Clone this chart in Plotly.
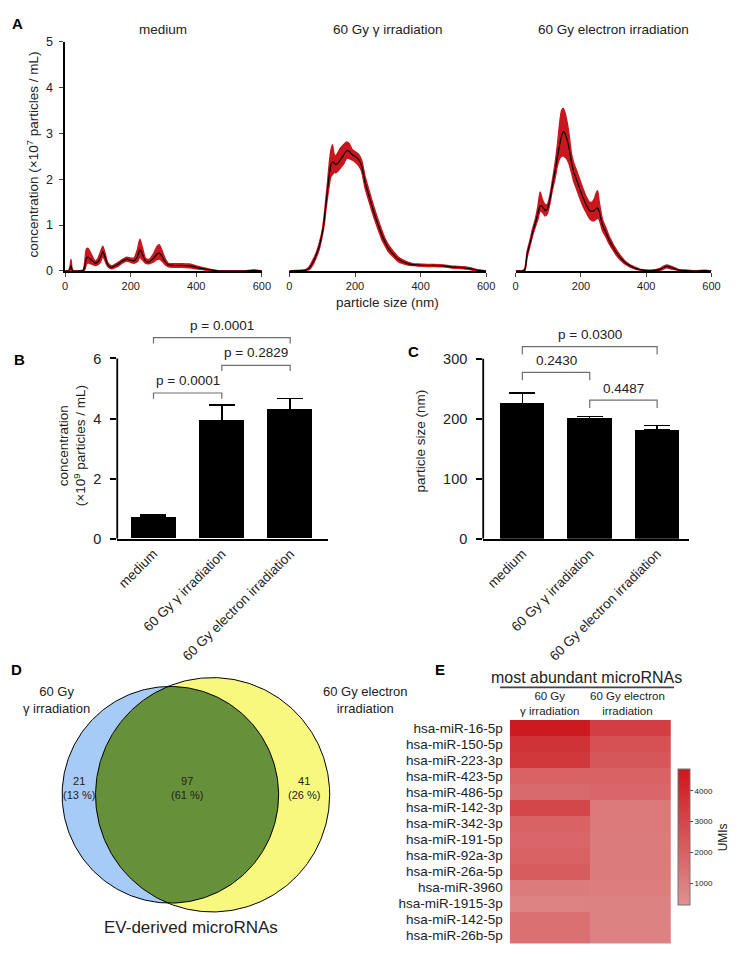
import numpy as np
import plotly.graph_objects as go

W, H = 740, 972
FONT = "Liberation Sans, Arial, sans-serif"
RED = "#c8171d"

# ---- panel A: size distributions (nm, x10^7 particles/mL)
size_med = [0, 10, 15, 18, 21, 25, 40, 55, 60, 65, 70, 80, 91, 100, 108, 115, 122, 130, 141, 160,
            175, 188, 200, 210, 220, 228, 236, 245, 256, 270, 280, 287, 295, 305, 316, 335, 356, 380, 400, 420,
            440, 456, 470, 500, 550, 565, 575, 585, 600]
mean_med = [0, 0, 0.05, 0.12, 0.03, 0, 0, 0.01, 0.1, 0.28, 0.3, 0.24, 0.17, 0.2, 0.3, 0.42, 0.3, 0.14, 0.08, 0.14,
            0.22, 0.26, 0.23, 0.22, 0.3, 0.47, 0.36, 0.22, 0.2, 0.28, 0.37, 0.39, 0.33, 0.2, 0.13, 0.12, 0.12, 0.11, 0.08, 0.05,
            0.03, 0.01, 0, 0, 0, 0.01, 0.015, 0.01, 0]
upper_med = [0, 0, 0.1, 0.25, 0.06, 0, 0, 0.02, 0.2, 0.48, 0.49, 0.36, 0.22, 0.27, 0.42, 0.54, 0.38, 0.18, 0.11, 0.18,
             0.25, 0.3, 0.28, 0.28, 0.45, 0.69, 0.5, 0.28, 0.25, 0.38, 0.53, 0.57, 0.45, 0.27, 0.16, 0.16, 0.16, 0.15, 0.11, 0.07,
             0.04, 0.02, 0.005, 0, 0, 0.015, 0.02, 0.015, 0]
lower_med = [0, 0, 0.02, 0.05, 0, 0, 0, 0, 0.03, 0.15, 0.18, 0.15, 0.12, 0.14, 0.2, 0.32, 0.22, 0.1, 0.05, 0.1,
             0.18, 0.22, 0.19, 0.17, 0.2, 0.3, 0.24, 0.17, 0.16, 0.2, 0.25, 0.26, 0.22, 0.14, 0.09, 0.08, 0.08, 0.07, 0.05, 0.03,
             0.01, 0, 0, 0, 0, 0.005, 0.01, 0.005, 0]

size_gam = [0, 20, 40, 50, 60, 71, 81, 91, 101, 106, 111, 116, 121, 126, 131, 136, 141, 148, 156, 165,
            174, 182, 191, 200, 211, 220, 231, 241, 251, 261, 271, 281, 291, 301, 311, 321, 331, 346, 361, 376,
            391, 420, 441, 470, 491, 511, 531, 551, 571, 590, 600]
mean_gam = [0, 0.01, 0.01, 0.02, 0.06, 0.18, 0.33, 0.54, 0.86, 1.1, 1.43, 1.75, 2.07, 2.3, 2.38, 2.36, 2.32, 2.35, 2.43, 2.52,
            2.62, 2.61, 2.54, 2.5, 2.43, 2.3, 1.93, 1.68, 1.43, 1.2, 1.0, 0.8, 0.64, 0.5, 0.41, 0.33, 0.26, 0.2, 0.16, 0.14,
            0.13, 0.12, 0.12, 0.11, 0.09, 0.08, 0.07, 0.05, 0.02, 0.01, 0]
upper_gam = [0, 0.01, 0.02, 0.03, 0.09, 0.23, 0.38, 0.6, 0.92, 1.2, 1.55, 1.9, 2.3, 2.6, 2.75, 2.55, 2.5, 2.58, 2.68, 2.75,
             2.81, 2.78, 2.65, 2.6, 2.54, 2.42, 2.05, 1.8, 1.55, 1.32, 1.1, 0.9, 0.72, 0.58, 0.48, 0.39, 0.31, 0.24, 0.19, 0.16,
             0.15, 0.14, 0.14, 0.13, 0.11, 0.1, 0.09, 0.07, 0.03, 0.01, 0]
lower_gam = [0, 0, 0, 0.01, 0.03, 0.13, 0.28, 0.48, 0.8, 1.0, 1.32, 1.6, 1.85, 2.05, 2.1, 2.15, 2.14, 2.18, 2.25, 2.33,
             2.45, 2.45, 2.42, 2.38, 2.3, 2.18, 1.8, 1.56, 1.32, 1.1, 0.9, 0.7, 0.56, 0.43, 0.35, 0.28, 0.21, 0.16, 0.13, 0.12,
             0.11, 0.1, 0.1, 0.09, 0.07, 0.06, 0.05, 0.03, 0.01, 0, 0]

size_ele = [0, 20, 28, 35, 45, 52, 60, 68, 75, 82, 90, 97, 105, 112, 120, 128, 136, 141, 146, 151,
            156, 163, 171, 178, 186, 196, 206, 216, 226, 234, 241, 246, 251, 256, 266, 276, 286, 296, 306, 316,
            326, 336, 347, 357, 367, 380, 400, 420, 440, 452, 462, 474, 487, 500, 520, 550, 580, 600]
mean_ele = [0, 0, 0.03, 0.36, 0.64, 0.85, 1.04, 1.25, 1.42, 1.4, 1.32, 1.35, 1.57, 1.85, 2.15, 2.5, 2.79, 2.95, 3.04, 3.0,
            2.9, 2.7, 2.36, 2.15, 2.0, 1.8, 1.61, 1.45, 1.32, 1.3, 1.32, 1.36, 1.37, 1.3, 1.0, 0.85, 0.68, 0.55, 0.43, 0.33,
            0.25, 0.18, 0.13, 0.09, 0.06, 0.03, 0.01, 0.01, 0.03, 0.07, 0.1, 0.08, 0.05, 0.02, 0.01, 0, 0.01, 0]
upper_ele = [0, 0, 0.05, 0.42, 0.7, 0.92, 1.12, 1.4, 1.72, 1.55, 1.45, 1.45, 1.65, 1.95, 2.3, 2.75, 3.29, 3.5, 3.54, 3.45,
             3.3, 3.0, 2.55, 2.35, 2.2, 2.0, 1.8, 1.62, 1.5, 1.5, 1.57, 1.68, 1.75, 1.5, 1.12, 0.95, 0.76, 0.62, 0.49, 0.38,
             0.29, 0.21, 0.15, 0.11, 0.08, 0.04, 0.02, 0.02, 0.05, 0.1, 0.13, 0.11, 0.07, 0.03, 0.02, 0.005, 0.015, 0]
lower_ele = [0, 0, 0.01, 0.3, 0.58, 0.78, 0.96, 1.12, 1.3, 1.28, 1.2, 1.25, 1.48, 1.75, 2.0, 2.3, 2.47, 2.5, 2.51, 2.48,
             2.45, 2.35, 2.15, 1.95, 1.8, 1.6, 1.42, 1.28, 1.15, 1.1, 1.1, 1.13, 1.15, 1.12, 0.88, 0.75, 0.6, 0.48, 0.37, 0.28,
             0.21, 0.15, 0.1, 0.07, 0.04, 0.02, 0, 0, 0.01, 0.04, 0.07, 0.05, 0.03, 0.01, 0, 0, 0.005, 0]

# ---- panels B / C
groups = ["medium", "60 Gy γ irradiation", "60 Gy electron irradiation"]
conc_mean = [0.72, 3.93, 4.30]
conc_sem = [0.08, 0.52, 0.37]
conc_pairs = [(0, 1), (1, 2), (0, 2)]
conc_p = ["p = 0.0001", "p = 0.2829", "p = 0.0001"]
psize_mean = [225, 200, 181]
psize_sem = [18, 4, 8]
psize_pairs = [(0, 1), (1, 2), (0, 2)]
psize_p = ["0.2430", "0.4487", "p = 0.0300"]

# ---- panel D
only_gamma, shared, only_electron = 21, 97, 41

# ---- panel E
mirnas = ["hsa-miR-16-5p", "hsa-miR-150-5p", "hsa-miR-223-3p", "hsa-miR-423-5p", "hsa-miR-486-5p",
          "hsa-miR-142-3p", "hsa-miR-342-3p", "hsa-miR-191-5p", "hsa-miR-92a-3p", "hsa-miR-26a-5p",
          "hsa-miR-3960", "hsa-miR-1915-3p", "hsa-miR-142-5p", "hsa-miR-26b-5p"]
umi_gamma = [4600, 3700, 3500, 2000, 1700, 3000, 2000, 1800, 2000, 2200, 1100, 800, 1500, 1500]
umi_electron = [3300, 2600, 2400, 2000, 1800, 1200, 1150, 1100, 1100, 1100, 1000, 850, 850, 850]


def fx(p):
    return p / W


def fy(p):
    return 1 - p / H


def ann(text, x, y, size=13, **kw):
    d = dict(text=text, x=fx(x), y=fy(y), xref="paper", yref="paper", showarrow=False,
             font=dict(size=size, color="#222", family=FONT), xanchor="center", yanchor="middle")
    d.update(kw)
    return d


fig = go.Figure()
annotations = []
shapes = []

# panel A
dists = [(size_med, mean_med, lower_med, upper_med, "medium", 55, 255),
         (size_gam, mean_gam, lower_gam, upper_gam, "60 Gy γ irradiation", 283, 483),
         (size_ele, mean_ele, lower_ele, upper_ele, "60 Gy electron irradiation", 513, 712)]
axes_layout = {}
for i, (xs, m, lo, up, title, x0, x1) in enumerate(dists):
    sfx = "" if i == 0 else str(i + 1)
    xa, ya = "x" + sfx, "y" + sfx
    band_line = dict(width=1.5, color=RED, shape="spline", smoothing=0.6)
    fig.add_trace(go.Scatter(x=xs, y=lo, mode="lines", line=band_line, xaxis=xa, yaxis=ya, hoverinfo="skip"))
    fig.add_trace(go.Scatter(x=xs, y=up, mode="lines", line=band_line, fill="tonexty", fillcolor=RED,
                             xaxis=xa, yaxis=ya, hoverinfo="skip"))
    fig.add_trace(go.Scatter(x=xs, y=m, mode="lines", line=dict(width=1.2, color="black", shape="spline", smoothing=0.6),
                             xaxis=xa, yaxis=ya))
    axes_layout["xaxis" + sfx] = dict(domain=[fx(x0), fx(x1)], range=[0, 600], tickvals=[0, 200, 400, 600],
                                      ticks="outside", ticklen=4, showline=True, linewidth=1.5, linecolor="black",
                                      tickfont=dict(size=11), showgrid=False, zeroline=False, anchor=ya)
    axes_layout["yaxis" + sfx] = dict(domain=[fy(260), fy(27)], range=[0, 5], tickvals=[0, 1, 2, 3, 4, 5],
                                      ticks="outside", ticklen=4, showline=True, linewidth=1.5, linecolor="black",
                                      tickfont=dict(size=12.5), showgrid=False, zeroline=False, anchor=xa,
                                      visible=(i == 0), ticklabelstandoff=4)
    annotations.append(ann(title, (x0 + x1) / 2, 15, 13.5))

annotations.append(ann("concentration (×10<sup>7</sup> particles / mL)", 22, 142, 13.5, textangle=-90))
annotations.append(ann("particle size (nm)", 383, 292, 13.5))

# panels B and C
bar_panels = [
    ("4", conc_mean, conc_sem, conc_pairs, conc_p, [4.85, 5.77, 6.69], 0.19, 0.42,
     (108, 322, 300, 532), [-0.53, 2.55], [0, 7.6], [0, 2, 4, 6], 6),
    ("5", psize_mean, psize_sem, psize_pairs, psize_p, [277, 231, 320], 13, 20,
     (480, 689, 310, 532), [-0.58, 2.47], [0, 364], [0, 100, 200, 300], 300),
]
for sfx, means, sems, pairs, plabels, levels, drop, toff, box, xr, yr, yt, ytop in bar_panels:
    xa, ya = "x" + sfx, "y" + sfx
    fig.add_trace(go.Bar(x=[0, 1, 2], y=means, width=0.66, marker=dict(color="black", line=dict(width=0)),
                         error_y=dict(type="data", array=sems, arrayminus=[0] * 3, symmetric=False,
                                      color="black", thickness=1.5, width=13),
                         xaxis=xa, yaxis=ya))
    l, r, t, b = box
    axes_layout["xaxis" + sfx] = dict(domain=[fx(l), fx(r)], range=xr, tickvals=[0, 1, 2], ticktext=groups,
                                      tickangle=-45, ticks="", showline=True, linewidth=1.8, linecolor="black",
                                      tickfont=dict(size=13.5), showgrid=False, zeroline=False, anchor=ya)
    axes_layout["yaxis" + sfx] = dict(domain=[fy(b), fy(t)], range=yr, tickvals=yt, ticks="outside", ticklen=6,
                                      tickwidth=1.5, tickcolor="black", showline=False, tickfont=dict(size=14.5),
                                      showgrid=False, zeroline=False, anchor=xa, ticklabelstandoff=6)
    shapes.append(dict(type="line", xref=xa + " domain", yref=ya, x0=0, x1=0, y0=0, y1=ytop,
                       line=dict(color="black", width=1.8)))
    for (a, c), lab, lev in zip(pairs, plabels, levels):
        shapes.append(dict(type="path", xref=xa, yref=ya,
                           path=f"M {a},{lev - drop} L {a},{lev} L {c},{lev} L {c},{lev - drop}",
                           line=dict(color="#6e6e6e", width=1.2)))
        annotations.append(dict(text=lab, x=(a + c) / 2, y=lev + toff, xref=xa, yref=ya, showarrow=False,
                                font=dict(size=13.5, color="#222"), xanchor="center", yanchor="middle"))

annotations.append(ann("concentration<br>(×10<sup>9</sup> particles / mL)", 62, 437, 13.5, textangle=-90))
annotations.append(ann("particle size (nm)", 416, 433, 13.5, textangle=-90))

# panel D: area-proportional Venn diagram (axis units = pixels)
k = 10.13
n_g, n_e = only_gamma + shared, only_electron + shared
r1, r2 = k * np.sqrt(n_g), k * np.sqrt(n_e)
target = np.pi * k ** 2 * shared


def lens_area(d):
    a1 = np.arccos((d ** 2 + r1 ** 2 - r2 ** 2) / (2 * d * r1))
    a2 = np.arccos((d ** 2 + r2 ** 2 - r1 ** 2) / (2 * d * r2))
    s = np.sqrt((-d + r1 + r2) * (d + r1 - r2) * (d - r1 + r2) * (d + r1 + r2))
    return r1 ** 2 * a1 + r2 ** 2 * a2 - 0.5 * s


lo_d, hi_d = abs(r2 - r1) + 1e-6, r1 + r2 - 1e-6
for _ in range(60):
    mid = (lo_d + hi_d) / 2
    if lens_area(mid) > target:
        lo_d = mid
    else:
        hi_d = mid
d = (lo_d + hi_d) / 2

cx1, cy = 162, 792
cx2 = cx1 + d
th = np.linspace(0, 2 * np.pi, 361)
a = (d ** 2 + r1 ** 2 - r2 ** 2) / (2 * d)
h = np.sqrt(r1 ** 2 - a ** 2)
p1 = np.arctan2(h, a)
p2 = np.arctan2(h, d - a)
t1 = np.linspace(-p1, p1, 200)
t2 = np.linspace(np.pi - p2, np.pi + p2, 200)
lens_x = np.concatenate([cx1 + r1 * np.cos(t1), cx2 + r2 * np.cos(t2)])
lens_y = np.concatenate([cy + r1 * np.sin(t1), cy + r2 * np.sin(t2)])

circ = dict(mode="lines", fill="toself", xaxis="x6", yaxis="y6", hoverinfo="skip", line=dict(width=0))
fig.add_trace(go.Scatter(x=cx1 + r1 * np.cos(th), y=cy + r1 * np.sin(th), fillcolor="#a6cbf6", **circ))
fig.add_trace(go.Scatter(x=cx2 + r2 * np.cos(th), y=cy + r2 * np.sin(th), fillcolor="#f8f87f", **circ))
fig.add_trace(go.Scatter(x=lens_x, y=lens_y, fillcolor="#67903a", **circ))
for cx, r in [(cx1, r1), (cx2, r2)]:
    fig.add_trace(go.Scatter(x=cx + r * np.cos(th), y=cy + r * np.sin(th), mode="lines",
                             line=dict(color="black", width=1), xaxis="x6", yaxis="y6", hoverinfo="skip"))
axes_layout["xaxis6"] = dict(domain=[0, 0.5], range=[0, 370], visible=False, anchor="y6")
axes_layout["yaxis6"] = dict(domain=[0, fy(620)], range=[972, 620], visible=False, anchor="x6")

total = only_gamma + shared + only_electron
venn_text = [(only_gamma, (cx1 - r1 + cx2 - r2) / 2),
             (shared, (cx2 - r2 + cx1 + r1) / 2),
             (only_electron, (cx1 + r1 + cx2 + r2) / 2)]
for n, xpos in venn_text:
    annotations.append(dict(text=f"{n}<br>({round(100 * n / total)} %)", x=xpos, y=cy - 7, xref="x6", yref="y6",
                            showarrow=False, font=dict(size=11, color="#222"), xanchor="center", yanchor="middle"))
annotations.append(ann("60 Gy<br>γ irradiation", 46, 696, 13))
annotations.append(ann("60 Gy electron<br>irradiation", 360, 696, 13))
annotations.append(ann("EV-derived microRNAs", 183, 927, 17))

# panel E heatmap
fig.add_trace(go.Heatmap(z=[list(v) for v in zip(umi_gamma, umi_electron)], x=[0, 1], y=mirnas,
                         colorscale=[[0, "#df9191"], [1, "#cc171c"]], zmin=300, zmax=4700,
                         xaxis="x7", yaxis="y7",
                         colorbar=dict(x=fx(678), xanchor="left", y=fy(835), yanchor="middle",
                                       len=136, lenmode="pixels", thickness=12, outlinewidth=1,
                                       outlinecolor="#777", tickvals=[1000, 2000, 3000, 4000],
                                       ticks="outside", ticklen=3, tickfont=dict(size=8), xpad=0, ypad=0)))
axes_layout["xaxis7"] = dict(domain=[fx(507), fx(671)], range=[-0.5, 1.5], visible=False, anchor="y7")
axes_layout["yaxis7"] = dict(domain=[fy(943), fy(716)], autorange="reversed", type="category",
                             tickmode="array", tickvals=mirnas, ticktext=mirnas, ticks="", showline=False,
                             showgrid=False, zeroline=False, tickfont=dict(size=13.5), anchor="x7",
                             ticklabelstandoff=6)
annotations.append(ann("most abundant microRNAs", 585, 673, 16))
shapes.append(dict(type="line", xref="paper", yref="paper", x0=fx(497), x1=fx(674), y0=fy(683), y1=fy(683),
                   line=dict(color="#444", width=1.8)))
annotations.append(ann("60 Gy<br>γ irradiation", 547, 699, 11.5))
annotations.append(ann("60 Gy electron<br>irradiation", 627, 699, 11.5))
annotations.append(ann("UMIs", 724, 835, 12, textangle=-90))

# panel letters
for letter, x, y in [("A", 7, 9), ("B", 9, 350), ("C", 409, 342), ("D", 6, 665), ("E", 436, 665)]:
    annotations.append(ann(f"<b>{letter}</b>", x, y, 15, font=dict(size=15, color="black", family=FONT)))

fig.update_layout(width=W, height=H, margin=dict(l=0, r=0, t=0, b=0), showlegend=False,
                  plot_bgcolor="white", paper_bgcolor="white",
                  font=dict(family=FONT, color="#222"), annotations=annotations, shapes=shapes,
                  bargap=0, **axes_layout)

fig.write_html("out.html")
